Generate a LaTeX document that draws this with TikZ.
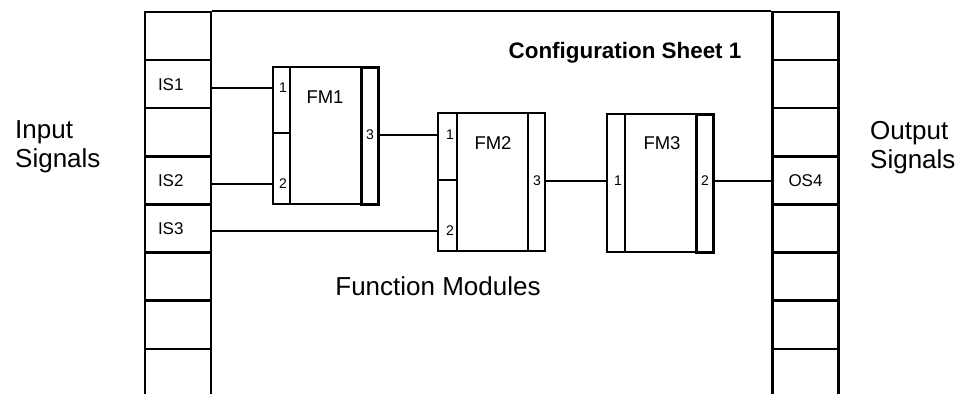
\documentclass[tikz,border=0pt]{standalone}
\usepackage{fontspec}
\setmainfont{Liberation Sans}
\usetikzlibrary{fit}

\begin{document}
\begin{tikzpicture}[
    x=0.5pt, y=-0.5pt,
    line width=1.2pt,
    cell/.style={rectangle, draw, minimum width=33pt, minimum height=24.05pt, inner sep=0pt},
    incell/.style={cell, align=left, text width=20pt, inner xsep=6.5pt, font=\fontsize{8.5}{10}\selectfont},
    outcell/.style={cell, font=\fontsize{8.5}{10}\selectfont},
    module/.style={rectangle, draw, inner sep=0pt},
    port/.style={rectangle, draw, inner sep=0pt},
    outport/.style={port, line width=1.5pt},
    pin/.style={inner sep=0pt, font=\fontsize{7}{8}\selectfont},
    fmname/.style={inner sep=0pt, font=\fontsize{9.25}{11}\selectfont},
    title/.style={inner sep=0pt, font=\fontsize{11.2}{13}\selectfont\bfseries},
    side/.style={inner sep=0pt, align=left, font=\fontsize{13}{14.5}\selectfont},
    wire/.style={line width=1.2pt}
]
    \useasboundingbox (0,0) rectangle (957,393);

% -------------------------
% Signal columns
% -------------------------
    \foreach \k/\txt in {1/{},2/IS1,3/{},4/IS2,5/IS3,6/{},7/{},8/{}}
        \node[incell] (in_\k) at (178, {12+48.1*(\k-0.5)}) {\txt};
    \foreach \k/\txt in {1/{},2/{},3/{},4/OS4,5/{},6/{},7/{},8/{}}
        \node[outcell] (out_\k) at (805.5, {12+48.1*(\k-0.5)}) {\txt};

    \draw (in_1.north east) -- (out_1.north west); % top edge of the sheet

% -------------------------
% Headers
% -------------------------
    \node[title] (sheet) at (625,53) {Configuration Sheet 1};
    \node[side, anchor=west] (insig) at (14,147) {Input\\Signals};
    \node[side, anchor=west] (outsig) at (869,148) {Output\\Signals};
    \node[side] (fmlabel) at (438,286) {Function Modules};

% -------------------------
% FM1
% -------------------------
    \node[module, fit={(273,67) (378,204)}] (fm1) {};
    \node[port, fit={(273,67) (290,133)}] (fm1_p1) {};
    \node[port, fit={(273,133) (290,204)}] (fm1_p2) {};
    \node[outport, fit={(361,67) (378,204)}] (fm1_p3) {};
    \node[fmname] (fm1_name) at (325,97) {FM1};
    \node[pin] (fm1_n1) at (283,88) {1};
    \node[pin] (fm1_n2) at (283,184) {2};
    \node[pin] (fm1_n3) at (370,135) {3};

% -------------------------
% FM2
% -------------------------
    \node[module, fit={(438,113) (545,251)}] (fm2) {};
    \node[port, fit={(438,113) (457,180)}] (fm2_p1) {};
    \node[port, fit={(438,180) (457,251)}] (fm2_p2) {};
    \node[port, fit={(528,113) (545,251)}] (fm2_p3) {};
    \node[fmname] (fm2_name) at (493,143) {FM2};
    \node[pin] (fm2_n1) at (450,135) {1};
    \node[pin] (fm2_n2) at (450,231) {2};
    \node[pin] (fm2_n3) at (537,181) {3};

% -------------------------
% FM3
% -------------------------
    \node[module, fit={(607,114) (713,252)}] (fm3) {};
    \node[port, fit={(607,114) (625,252)}] (fm3_p1) {};
    \node[outport, fit={(696,114) (713,252)}] (fm3_p2) {};
    \node[fmname] (fm3_name) at (662,143) {FM3};
    \node[pin] (fm3_n1) at (618,181) {1};
    \node[pin] (fm3_n2) at (705,181) {2};

% -------------------------
% Wires
% -------------------------
    \draw[wire] (in_2.east |- fm1_n1) -- (fm1_p1.west |- fm1_n1);
    \draw[wire] (in_4.east |- fm1_n2) -- (fm1_p2.west |- fm1_n2);
    \draw[wire] (in_5.east |- fm2_n2) -- (fm2_p2.west |- fm2_n2);
    \draw[wire] (fm1_p3.east |- fm1_n3) -- (fm2_p1.west |- fm1_n3);
    \draw[wire] (fm2_p3.east |- fm2_n3) -- (fm3_p1.west |- fm2_n3);
    \draw[wire] (fm3_p2.east |- fm3_n2) -- (out_4.west |- fm3_n2);
\end{tikzpicture}
\end{document}
